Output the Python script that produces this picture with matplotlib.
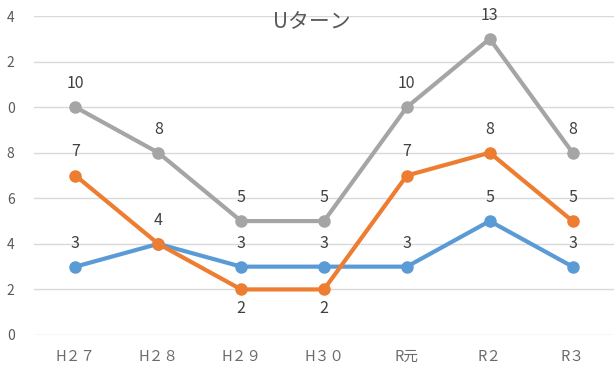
import matplotlib.pyplot as plt
import numpy as np

plt.rcParams['font.family'] = ['Noto Sans CJK JP', 'DejaVu Sans']

years = ['H２７', 'H２８', 'H２９', 'H３０', 'R元', 'R２', 'R３']
blue_vals = [3, 4, 3, 3, 3, 5, 3]
orange_vals = [7, 4, 2, 2, 7, 8, 5]
gray_vals = [10, 8, 5, 5, 10, 13, 8]
# orange labels sit below the point where the line dips
orange_below = [False, False, True, True, False, False, False]

y_ticks = [0, 2, 4, 6, 8, 10, 12, 14]
y_tick_labels = ['0', '2', '4', '6', '8', '0', '2', '4']

fig = plt.figure(figsize=(6.14, 3.73), dpi=100)
ax = fig.add_axes([34 / 614, 38 / 373, 580 / 614, 319 / 373])

x = np.arange(len(years))
series = [
    (blue_vals, '#5B9BD5', [False] * len(x)),
    (orange_vals, '#ED7D31', orange_below),
    (gray_vals, '#A5A5A5', [False] * len(x)),
]
for vals, col, below in series:
    ax.plot(x, vals, color=col, lw=3, marker='o', markersize=8,
            solid_capstyle='round', zorder=3)
    for xi, v, b in zip(x, vals, below):
        if vals is orange_vals and xi == 1:
            continue  # same spot as the blue "4"
        ax.annotate(str(v), (xi, v), xytext=(0, -14 if b else 17),
                    textcoords='offset points', ha='center', va='center',
                    fontsize=11.5, color='#404040', zorder=4)

ax.set_xlim(-0.5, len(years) - 0.5)
ax.set_ylim(0, 14)
ax.set_yticks(y_ticks)
ax.set_yticklabels(y_tick_labels)
ax.set_xticks(x)
ax.set_xticklabels(years)
ax.tick_params(axis='y', length=0, pad=14, labelsize=10, labelcolor='#595959')
ax.tick_params(axis='x', length=0, pad=11, labelsize=10.5, labelcolor='#6b6b6b')
ax.grid(axis='y', color='#D9D9D9', lw=1)
ax.set_axisbelow(True)
for s in ax.spines.values():
    s.set_visible(False)

fig.text(312 / 614, 1 - 22 / 373, 'Uターン', ha='center', va='center',
         fontsize=15, color='#595959')

fig.savefig('out.png', dpi=100)
plt.close('all')
